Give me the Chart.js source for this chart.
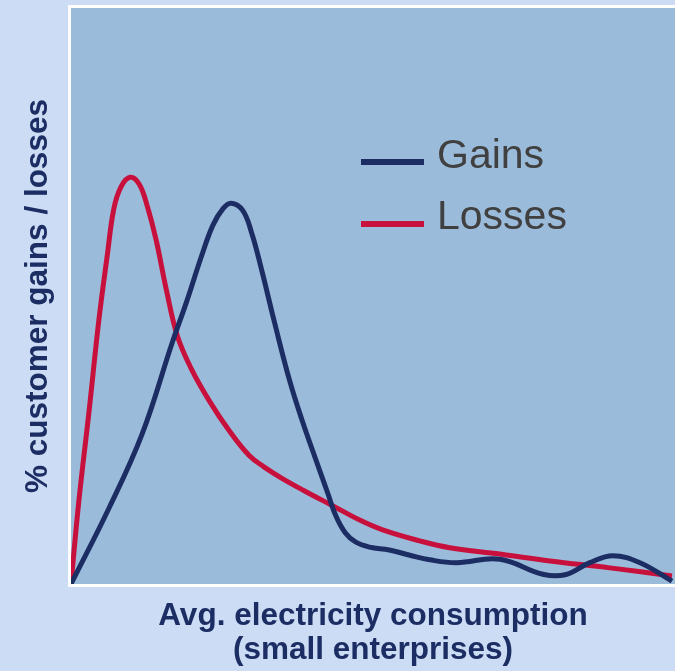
<!DOCTYPE html>
<html>
<head>
<meta charset="utf-8">
<script src="https://cdn.jsdelivr.net/npm/chart.js@4/dist/chart.umd.min.js"></script>
<style>
  html, body { margin: 0; padding: 0; background: #cbdcf4; }
  #wrap { width: 675px; height: 671px; }
</style>
</head>
<body>
<div id="wrap"><canvas id="myChart" width="675" height="671"></canvas></div>
<script>
// values, x and y both on a 0-100 scale
const gainsX  = [0, 6.3, 11.8, 16.7, 19.2, 21.6, 23.5, 25.2, 26.5, 28.4, 29.9, 31.5, 33.7, 36.2, 38.3, 40.6, 42.5, 43.9, 45.4, 47.1, 49.4, 52.7, 56.1, 59.4, 63.8, 71.0, 78.1, 81.8, 85.9, 89.7, 94.2, 99.5];
const gainsY  = [0, 13.2, 26.1, 41.7, 49.2, 56.9, 62.3, 65.2, 66.1, 64.9, 61.0, 54.8, 45.4, 35.3, 28.3, 21.4, 15.8, 11.7, 8.9, 7.3, 6.4, 5.9, 5.0, 4.2, 3.7, 4.3, 1.7, 1.6, 3.7, 4.9, 3.7, 0.5];
const lossesX = [0, 1.3, 3.0, 4.6, 6.0, 7.1, 8.3, 9.8, 11.3, 12.6, 14.1, 15.8, 17.6, 19.9, 22.9, 26.2, 29.5, 32.0, 35.0, 38.6, 43.3, 47.8, 51.6, 57.7, 62.7, 71.0, 79.3, 89.2, 99.5];
const lossesY = [0, 14.4, 30.1, 45.7, 57.0, 65.2, 69.0, 70.6, 69.4, 65.7, 59.7, 51.0, 43.1, 37.4, 31.8, 26.6, 22.3, 20.3, 18.3, 16.2, 13.6, 11.1, 9.4, 7.5, 6.3, 5.2, 4.0, 2.8, 1.4];
const seriesNames = ['Gains', 'Losses'];
const xTitle = ['Avg. electricity consumption', '(small enterprises)'];
const yTitle = '% customer gains / losses';

const navy = '#1c2d64';
const red = '#c8103c';
const font = '"Liberation Sans", Arial, sans-serif';

function toPoints(xs, ys) {
  return xs.map((x, i) => ({x: x, y: ys[i]}));
}

// background + white frame round the plot
const framePlugin = {
  id: 'frame',
  beforeDraw(chart) {
    const {ctx, chartArea: a, width, height} = chart;
    ctx.save();
    ctx.fillStyle = '#cbdcf4';
    ctx.fillRect(0, 0, width, height);
    ctx.fillStyle = '#9bbbda';
    ctx.fillRect(a.left, a.top, a.right - a.left, a.bottom - a.top);
    ctx.strokeStyle = '#ffffff';
    ctx.lineWidth = 3;
    ctx.beginPath();
    ctx.moveTo(a.right, a.top - 1.5);
    ctx.lineTo(a.left - 1.5, a.top - 1.5);
    ctx.lineTo(a.left - 1.5, a.bottom + 1.5);
    ctx.lineTo(a.right, a.bottom + 1.5);
    ctx.stroke();
    ctx.restore();
  }
};

// legend sits inside the plot, top right
const legendPlugin = {
  id: 'innerLegend',
  afterDatasetsDraw(chart) {
    const ctx = chart.ctx;
    const lineY = [162, 224];
    const textY = [157, 218];
    ctx.save();
    chart.data.datasets.forEach((ds, i) => {
      ctx.strokeStyle = ds.borderColor;
      ctx.lineWidth = 6;
      ctx.beginPath();
      ctx.moveTo(361, lineY[i]);
      ctx.lineTo(424, lineY[i]);
      ctx.stroke();
      ctx.fillStyle = '#404040';
      ctx.font = '41px ' + font;
      ctx.textBaseline = 'middle';
      ctx.textAlign = 'left';
      ctx.fillText(ds.label, 437, textY[i]);
    });
    ctx.restore();
  }
};

new Chart(document.getElementById('myChart'), {
  type: 'line',
  data: {
    datasets: [{
      label: seriesNames[0],
      data: toPoints(gainsX, gainsY),
      borderColor: navy,
      borderWidth: 5,
      pointRadius: 0,
      tension: 0.4,
      fill: false
    }, {
      label: seriesNames[1],
      data: toPoints(lossesX, lossesY),
      borderColor: red,
      borderWidth: 5,
      pointRadius: 0,
      tension: 0.4,
      fill: false
    }]
  },
  options: {
    responsive: false,
    animation: false,
    devicePixelRatio: 1,
    layout: { padding: { top: 8, left: 0, right: 0, bottom: 0 } },
    plugins: { legend: { display: false }, tooltip: { enabled: false } },
    scales: {
      x: {
        type: 'linear', min: 0, max: 100,
        ticks: { display: false },
        grid: { display: false, drawTicks: false },
        border: { display: false },
        title: {
          display: true, text: xTitle, color: navy,
          font: { family: font, size: 31.5, weight: 'bold', lineHeight: 1.092 },
          padding: { top: 15.2, bottom: 3 }
        }
      },
      y: {
        type: 'linear', min: 0, max: 100,
        ticks: { display: false },
        grid: { display: false, drawTicks: false },
        border: { display: false },
        title: {
          display: true, text: yTitle, color: navy,
          font: { family: font, size: 31.5, weight: 'bold', lineHeight: 1.2 },
          padding: { top: 19.1, bottom: 14.1 }
        }
      }
    }
  },
  plugins: [framePlugin, legendPlugin]
});
</script>
</body>
</html>
